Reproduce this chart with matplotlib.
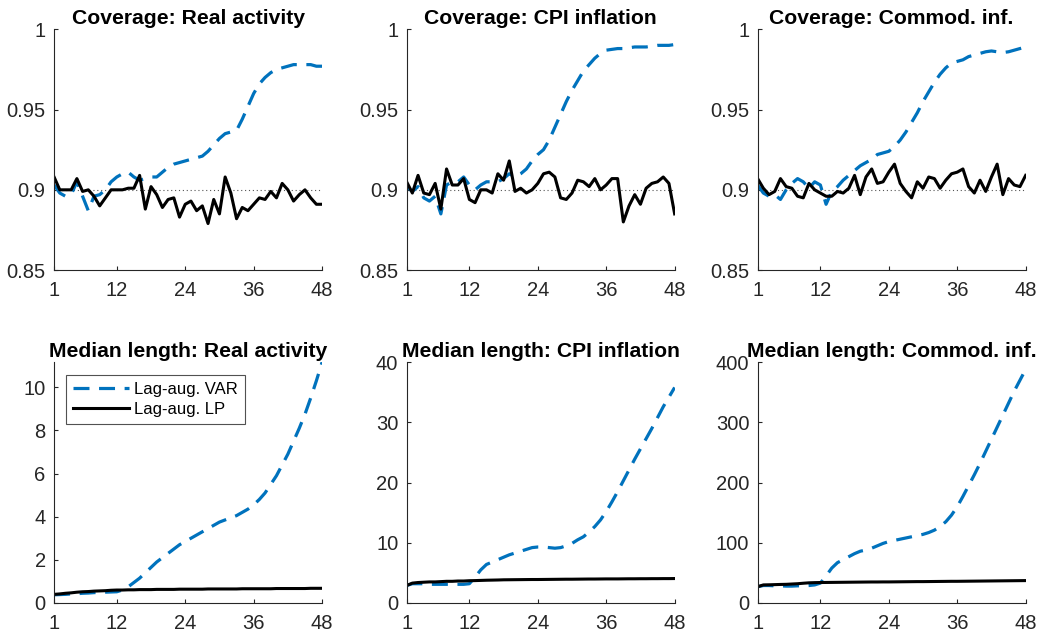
import numpy as np
import matplotlib
matplotlib.use("Agg")
import matplotlib.pyplot as plt

plt.rcParams["font.family"] = ["Liberation Sans", "DejaVu Sans"]

# ── data ─────────────────────────────────────────────────────────
horizons = np.arange(1, 49)

cov_real_var = [0.903, 0.898, 0.896, 0.897, 0.905, 0.896, 0.887, 0.896, 0.897, 0.900,
                0.905, 0.908, 0.910, 0.911, 0.908, 0.906, 0.907, 0.908, 0.908, 0.911,
                0.914, 0.916, 0.917, 0.918, 0.919, 0.920, 0.921, 0.924, 0.928, 0.932,
                0.935, 0.936, 0.937, 0.944, 0.952, 0.960, 0.966, 0.970, 0.973, 0.975,
                0.976, 0.977, 0.978, 0.978, 0.978, 0.978, 0.977, 0.977]
cov_real_lp = [0.908, 0.900, 0.900, 0.900, 0.907, 0.899, 0.900, 0.896, 0.890, 0.895,
               0.900, 0.900, 0.900, 0.901, 0.901, 0.909, 0.888, 0.902, 0.897, 0.889,
               0.894, 0.895, 0.883, 0.891, 0.893, 0.887, 0.890, 0.879, 0.894, 0.885,
               0.908, 0.898, 0.882, 0.889, 0.887, 0.891, 0.895, 0.894, 0.899, 0.895,
               0.904, 0.900, 0.893, 0.897, 0.900, 0.895, 0.891, 0.891]

cov_cpi_var = [0.902, 0.899, 0.902, 0.895, 0.893, 0.896, 0.885, 0.903, 0.905, 0.905,
               0.908, 0.903, 0.900, 0.903, 0.905, 0.905, 0.905, 0.907, 0.910, 0.908,
               0.910, 0.913, 0.918, 0.922, 0.925, 0.931, 0.939, 0.947, 0.955, 0.962,
               0.968, 0.974, 0.978, 0.982, 0.985, 0.987, 0.9875, 0.988, 0.988, 0.9885,
               0.989, 0.989, 0.989, 0.9895, 0.990, 0.990, 0.990, 0.9905]
cov_cpi_lp = [0.905, 0.898, 0.909, 0.898, 0.897, 0.904, 0.888, 0.913, 0.903, 0.903,
              0.907, 0.894, 0.892, 0.900, 0.900, 0.898, 0.910, 0.906, 0.918, 0.899,
              0.901, 0.898, 0.900, 0.904, 0.910, 0.911, 0.908, 0.895, 0.894, 0.898,
              0.906, 0.905, 0.902, 0.907, 0.900, 0.903, 0.907, 0.907, 0.880, 0.890,
              0.897, 0.891, 0.901, 0.904, 0.905, 0.908, 0.904, 0.885]

cov_com_var = [0.903, 0.898, 0.896, 0.897, 0.894, 0.900, 0.904, 0.907, 0.905, 0.901,
               0.905, 0.903, 0.891, 0.899, 0.902, 0.906, 0.909, 0.912, 0.915, 0.917,
               0.919, 0.922, 0.923, 0.924, 0.927, 0.931, 0.936, 0.942, 0.948, 0.955,
               0.961, 0.967, 0.972, 0.976, 0.979, 0.980, 0.981, 0.983, 0.984, 0.985,
               0.986, 0.9865, 0.986, 0.9855, 0.986, 0.987, 0.988, 0.989]
cov_com_lp = [0.907, 0.901, 0.897, 0.899, 0.907, 0.902, 0.901, 0.896, 0.895, 0.904,
              0.900, 0.898, 0.896, 0.896, 0.899, 0.898, 0.901, 0.909, 0.897, 0.908,
              0.913, 0.904, 0.905, 0.911, 0.916, 0.904, 0.899, 0.895, 0.905, 0.901,
              0.908, 0.907, 0.901, 0.906, 0.910, 0.911, 0.913, 0.902, 0.898, 0.906,
              0.899, 0.908, 0.916, 0.897, 0.907, 0.903, 0.902, 0.909]

len_real_var = [0.38, 0.39, 0.40, 0.42, 0.43, 0.45, 0.46, 0.48, 0.49, 0.50,
                0.51, 0.52, 0.60, 0.75, 0.95, 1.15, 1.40, 1.65, 1.90, 2.10,
                2.30, 2.50, 2.70, 2.85, 3.00, 3.15, 3.30, 3.45, 3.60, 3.75,
                3.85, 3.95, 4.05, 4.20, 4.35, 4.55, 4.80, 5.10, 5.50, 5.90,
                6.40, 6.90, 7.50, 8.10, 8.75, 9.50, 10.30, 11.16]
len_real_lp = [0.40, 0.42, 0.45, 0.47, 0.50, 0.52, 0.53, 0.55, 0.56, 0.57,
               0.59, 0.60, 0.60, 0.61, 0.61, 0.62, 0.62, 0.62, 0.63, 0.63,
               0.63, 0.63, 0.64, 0.64, 0.64, 0.64, 0.64, 0.65, 0.65, 0.65,
               0.65, 0.65, 0.65, 0.66, 0.66, 0.66, 0.66, 0.66, 0.66, 0.67,
               0.67, 0.67, 0.67, 0.67, 0.67, 0.68, 0.68, 0.68]

len_cpi_var = [2.9, 3.2, 3.2, 3.2, 3.1, 3.1, 3.1, 3.1, 3.1, 3.1,
               3.1, 3.2, 4.3, 5.5, 6.4, 6.8, 7.2, 7.6, 8.0, 8.3,
               8.6, 8.9, 9.2, 9.3, 9.3, 9.2, 9.1, 9.2, 9.5, 9.9,
               10.5, 11.0, 11.8, 12.7, 13.8, 15.2, 16.8, 18.5, 20.3, 22.1,
               23.9, 25.6, 27.3, 29.0, 30.8, 32.6, 34.2, 35.8]
len_cpi_lp = [2.9, 3.3, 3.4, 3.45, 3.5, 3.5, 3.55, 3.6, 3.6, 3.65,
              3.65, 3.7, 3.72, 3.75, 3.78, 3.8, 3.82, 3.85, 3.86, 3.87,
              3.88, 3.89, 3.9, 3.9, 3.91, 3.92, 3.93, 3.94, 3.95, 3.95,
              3.96, 3.97, 3.98, 3.98, 3.99, 4.0, 4.0, 4.0, 4.01, 4.02,
              4.02, 4.03, 4.03, 4.04, 4.04, 4.05, 4.05, 4.06]

len_com_var = [27, 29, 29, 28.5, 28.5, 28, 28, 28.5, 28.5, 29,
               30, 33, 45, 58, 67, 72, 77, 82, 86, 88,
               91, 95, 99, 102, 104, 106, 108, 110, 112, 114,
               117, 121, 127, 135, 146, 160, 177, 195, 213, 232,
               252, 272, 292, 312, 332, 352, 370, 388]
len_com_lp = [27, 30, 30.2, 30.5, 30.8, 31, 31.5, 32, 32.8, 33.5,
              33.8, 34, 34.1, 34.2, 34.3, 34.4, 34.5, 34.6, 34.7, 34.8,
              34.9, 34.9, 35, 35, 35.1, 35.2, 35.3, 35.4, 35.5, 35.5,
              35.6, 35.7, 35.8, 35.9, 36, 36, 36.1, 36.2, 36.3, 36.4,
              36.5, 36.6, 36.7, 36.8, 36.9, 37, 37.1, 37.2]

titles = ["Coverage: Real activity", "Coverage: CPI inflation", "Coverage: Commod. inf.",
          "Median length: Real activity", "Median length: CPI inflation", "Median length: Commod. inf."]
var_series = [cov_real_var, cov_cpi_var, cov_com_var, len_real_var, len_cpi_var, len_com_var]
lp_series = [cov_real_lp, cov_cpi_lp, cov_com_lp, len_real_lp, len_cpi_lp, len_com_lp]

x_ticks = [1, 12, 24, 36, 48]
cov_yticks = [0.85, 0.9, 0.95, 1.0]
cov_ylabels = ["0.85", "0.9", "0.95", "1"]
len_ylims = [(0, 11.16), (0, 40), (0, 400)]
len_yticks = [[0, 2, 4, 6, 8, 10], [0, 10, 20, 30, 40], [0, 100, 200, 300, 400]]

# ── figure ───────────────────────────────────────────────────────
fig = plt.figure(figsize=(10.4, 6.37), dpi=100)
lefts = [0.052, 0.391, 0.7285]
width = 0.2577
bottoms = [0.576, 0.0534]
height = 0.378
blue = "#0072BD"
gray = "#262626"

for i in range(6):
    row, col = divmod(i, 3)
    ax = fig.add_axes([lefts[col], bottoms[row], width, height])
    ax.plot(horizons, var_series[i], color=blue, lw=2.3, ls=(0, (5, 3)), label="Lag-aug. VAR")
    ax.plot(horizons, lp_series[i], color="black", lw=2.2, label="Lag-aug. LP")
    if row == 0:
        ax.plot([1, 48], [0.9, 0.9], color="#555555", lw=0.8, ls=(0, (1, 2.5)), zorder=0)
        ax.set_ylim(0.85, 1.0)
        ax.set_yticks(cov_yticks)
        ax.set_yticklabels(cov_ylabels)
    else:
        ax.set_ylim(*len_ylims[col])
        ax.set_yticks(len_yticks[col])
    ax.set_xlim(1, 48)
    ax.set_xticks(x_ticks)
    ax.set_title(titles[i], fontsize=15.2, fontweight="bold", pad=4)
    ax.spines[["top", "right"]].set_visible(False)
    for s in ["left", "bottom"]:
        ax.spines[s].set_color(gray)
        ax.spines[s].set_linewidth(0.8)
    ax.tick_params(direction="in", length=3, width=0.8, colors=gray, labelsize=14.5)
    ax.tick_params(axis="x", pad=8)
    ax.tick_params(axis="y", pad=6)
    if i == 3:
        leg = ax.legend(loc="upper left", fontsize=12, frameon=True, fancybox=False,
                        handlelength=3.4, handletextpad=0.3, borderpad=0.4,
                        labelspacing=0.3, borderaxespad=0.0, bbox_to_anchor=(0.045, 0.945))
        leg.get_frame().set_edgecolor(gray)
        leg.get_frame().set_linewidth(0.8)

plt.savefig("out.png", dpi=100)
